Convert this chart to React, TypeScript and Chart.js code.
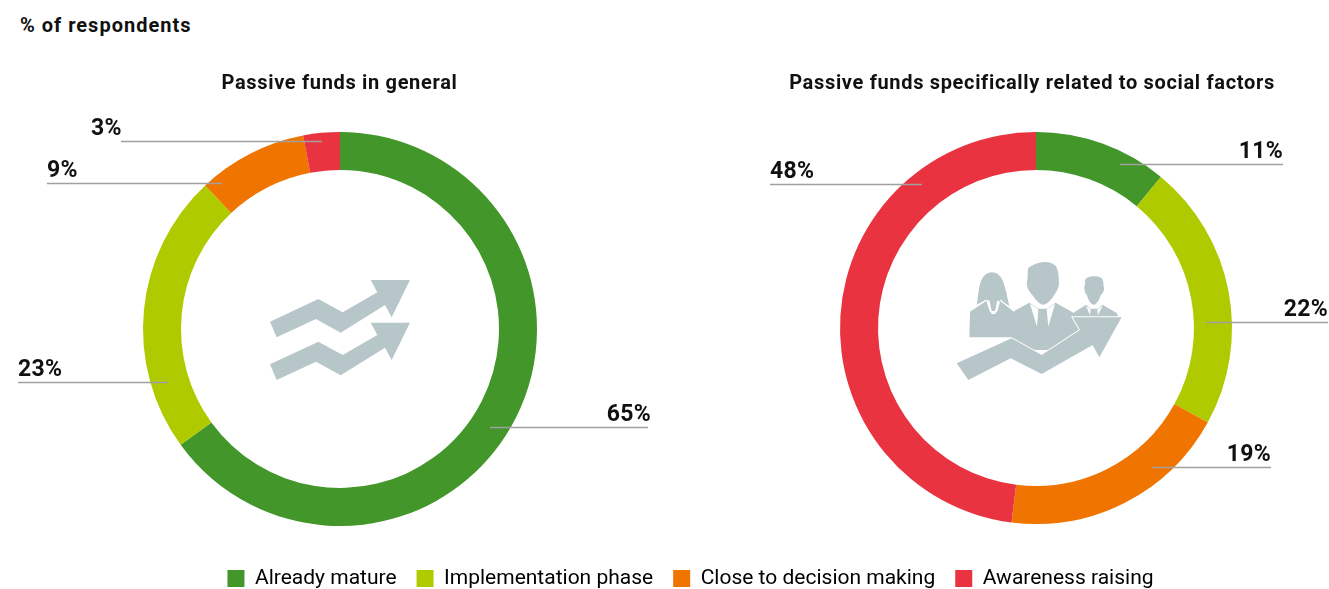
import React, { useEffect, useRef } from "react";
import { Chart, registerables } from "chart.js";

Chart.register(...registerables);

const categories = ["Already mature", "Implementation phase", "Close to decision making", "Awareness raising"];
const generalValues = [65, 23, 9, 3];
const socialValues = [11, 22, 19, 48];
const generalLabels = ["65%", "23%", "9%", "3%"];
const socialLabels = ["11%", "22%", "19%", "48%"];
const colours = ["#43962a", "#afcb00", "#f07400", "#ea3340"];

const FONT = "Roboto, 'Liberation Sans', sans-serif";
const GREY = "#b7c6c9";

// Leader layout, relative to each ring's centre: line from x1 to x2 at y; text anchored at tx.
const generalLeaders = [
  { x1: 150, x2: 308, y: 98, tx: 311, align: "right" },
  { x1: -172, x2: -322, y: 53, tx: -322, align: "left" },
  { x1: -118, x2: -293, y: -146, tx: -293, align: "left" },
  { x1: -18, x2: -219, y: -188, tx: -249, align: "left" },
];
const socialLeaders = [
  { x1: 84, x2: 247, y: -164, tx: 247, align: "right" },
  { x1: 170, x2: 292, y: -6, tx: 292, align: "right" },
  { x1: 116, x2: 235, y: 139, tx: 235, align: "right" },
  { x1: -114, x2: -266, y: -144, tx: -266, align: "left" },
];

const annotate = {
  id: "annotate",
  afterDatasetsDraw(chart: any, _a: any, opts: any) {
    const { ctx } = chart;
    const arc = chart.getDatasetMeta(0).data[0];
    if (!arc) return;
    const cx = arc.x;
    const cy = arc.y;
    ctx.save();
    ctx.fillStyle = "#111111";
    ctx.textBaseline = "alphabetic";
    ctx.font = `700 20px ${FONT}`;
    ctx.letterSpacing = "0.67px";
    ctx.textAlign = "center";
    ctx.fillText(opts.title, opts.titleX, 89);
    opts.leaders.forEach((l: any, i: number) => {
      ctx.strokeStyle = "#a0a0a0";
      ctx.lineWidth = 1.3;
      ctx.beginPath();
      ctx.moveTo(cx + l.x1, cy + l.y + 0.5);
      ctx.lineTo(cx + l.x2, cy + l.y + 0.5);
      ctx.stroke();
      ctx.font = `700 23px ${FONT}`;
      ctx.letterSpacing = "0.3px";
      ctx.textAlign = l.align;
      ctx.fillText(opts.labels[i], cx + l.tx, cy + l.y - 6);
    });
    ctx.restore();
  },
};

function ring(canvas: HTMLCanvasElement, values: number[], padding: any, cutout: string, ann: any) {
  return new Chart(canvas, {
    type: "doughnut",
    data: {
      labels: categories,
      datasets: [{ data: values, backgroundColor: colours, borderWidth: 0 }],
    },
    options: {
      animation: false,
      responsive: false,
      cutout,
      layout: { padding },
      plugins: { legend: { display: false }, tooltip: { enabled: false }, annotate: ann } as any,
    },
    plugins: [annotate],
  } as any);
}

export default function App() {
  const left = useRef<HTMLCanvasElement>(null);
  const right = useRef<HTMLCanvasElement>(null);
  const legend = useRef<HTMLCanvasElement>(null);

  useEffect(() => {
    document.body.style.margin = "0";
    const a = ring(left.current!, generalValues, { top: 132, bottom: 63, left: 0, right: 0 }, "80.7%", {
      title: "Passive funds in general",
      titleX: 339.5,
      leaders: generalLeaders,
      labels: generalLabels,
    });
    const b = ring(right.current!, socialValues, { top: 132, bottom: 65, left: 63, right: 0 }, "80.6%", {
      title: "Passive funds specifically related to social factors",
      titleX: 352,
      leaders: socialLeaders,
      labels: socialLabels,
    });
    const c = new Chart(legend.current!, {
      type: "doughnut",
      data: {
        labels: categories,
        datasets: [{ data: generalValues, backgroundColor: colours, borderWidth: 0, radius: 0 }],
      },
      options: {
        animation: false,
        responsive: false,
        layout: { padding: { left: 52 } },
        plugins: {
          tooltip: { enabled: false },
          legend: {
            position: "bottom",
            labels: {
              boxWidth: 17,
              boxHeight: 17,
              padding: 20,
              color: "#333333",
              font: { family: FONT, size: 21 },
              generateLabels: () =>
                categories.map((text, i) => ({
                  text,
                  fillStyle: colours[i],
                  strokeStyle: colours[i],
                  lineWidth: 0,
                  hidden: false,
                  index: i,
                })),
            },
          },
        },
      },
    } as any);
    return () => {
      a.destroy();
      b.destroy();
      c.destroy();
    };
  }, []);

  const abs = (l: number, t: number, w: number, h: number): React.CSSProperties => ({
    position: "absolute",
    left: l,
    top: t,
    width: w,
    height: h,
    display: "block",
  });

  return (
    <div style={{ position: "relative", width: 1329, height: 589, overflow: "hidden", background: "#fff" }}>
      <div
        style={{
          position: "absolute",
          left: 20,
          top: 13,
          font: `700 20px ${FONT}`,
          letterSpacing: "1px",
          color: "#111",
        }}
      >
        % of respondents
      </div>
      <canvas ref={left} width={680} height={589} style={abs(0, 0, 680, 589)} />
      <canvas ref={right} width={649} height={589} style={abs(680, 0, 649, 589)} />
      <canvas ref={legend} width={1329} height={200} style={abs(0, 399, 1329, 200)} />
      <svg viewBox="0 0 570 390" style={abs(240, 260, 190, 130)}>
        <g fill={GREY}>
          <polygon points="90,185 235,117 308,157 412,97 392,60 510,60 455,172 435,135 302,218 228,177 110,232" />
          <polygon points="90,313 235,245 308,285 412,225 392,188 510,188 455,300 435,263 302,346 228,305 110,360" />
        </g>
      </svg>
      <svg viewBox="0 0 600 420" style={abs(940, 250, 200, 140)}>
        <g fill={GREY}>
          <path d="M110,166 C118,135 112,70 155,67 C190,67 195,110 208,168 L140,150 Z" />
          <path d="M90,185 L140,152 L150,185 L170,185 L180,152 L222,185 L240,262 L88,262 Z" />
          <path d="M436,100 C430,85 445,79 462,79 C482,79 492,85 490,105 C496,120 488,130 482,136 C476,155 468,164 462,164 C454,164 446,155 441,136 C434,128 430,115 436,100 Z" />
          <path d="M395,192 L438,164 L452,176 L472,176 L488,164 L530,189 L536,202 L395,202 Z" />
          <path d="M265,54 C285,36 330,26 348,49 C358,70 356,85 357,99 C356,120 345,130 340,139 C330,155 318,164 310,164 C300,164 288,152 280,139 C268,125 256,110 262,90 C264,75 262,65 265,54 Z" />
          <path d="M200,195 L268,158 L295,176 L320,176 L347,158 L428,204 L430,300 L220,300 Z" />
        </g>
        <g fill="#fff">
          <polygon points="270,161 295,178 291,230" />
          <polygon points="345,161 320,178 325,230" />
          <polygon points="438,167 452,178 450,196" />
          <polygon points="488,167 472,178 474,196" />
          <polygon points="140,156 150,183 155,192 165,192 172,183 180,156 170,150 150,150" />
        </g>
        <polygon fill={GREY} points="296,180 320,180 314,199 322,233 308,250 290,230 302,199" />
        <polygon fill={GREY} points="455,180 470,180 467,197 458,197" />
        <polygon fill={GREY} points="148,150 172,150 165,183 155,183" />
        <g fill="none" stroke="#fff" strokeWidth="4">
          <polyline points="108,168 140,150" />
          <polyline points="180,150 224,184" />
        </g>
        <polygon
          fill={GREY}
          stroke="#fff"
          strokeWidth="6"
          paintOrder="stroke"
          points="50,340 215,265 305,315 420,240 398,202 545,202 478,322 458,285 305,372 212,325 85,390"
        />
      </svg>
    </div>
  );
}
